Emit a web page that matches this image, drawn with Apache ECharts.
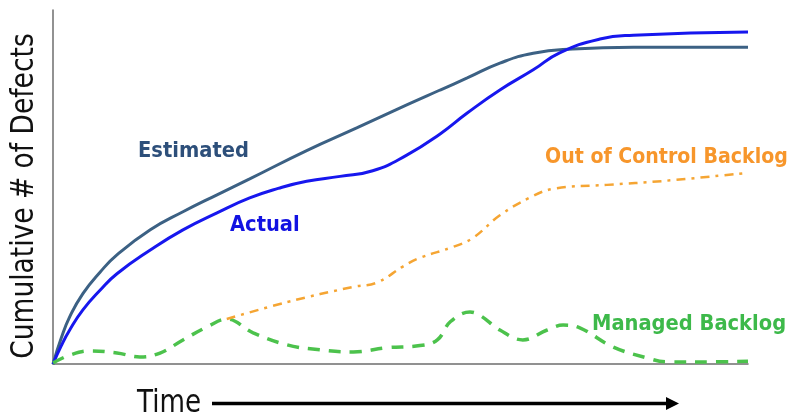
<!DOCTYPE html>
<html>
<head>
<meta charset="utf-8">
<script src="https://cdn.jsdelivr.net/npm/echarts@6/dist/echarts.min.js"></script>
<style>
  html, body { margin: 0; padding: 0; background: #ffffff; }
  #chart { width: 804px; height: 416px; }
</style>
</head>
<body>
<div id="chart"></div>
<script>
// ---- Data (time 0..100, defects 0..100) ----
const yAxisTitle = 'Cumulative # of Defects';
const xAxisTitle = 'Time';
const seriesNames = ['Estimated', 'Actual', 'Out of Control Backlog', 'Managed Backlog'];

const estimatedTime    = [0, 1.2, 2.4, 4.3, 6.8, 9.2, 14.0, 18.7, 23.6, 28.3, 36.5, 43.7, 50.9, 55.7, 59.6, 64.3, 69.1, 74.8, 83.5, 100];
const estimatedDefects = [0, 7.4, 13.3, 19.9, 26.0, 30.8, 37.9, 43.0, 47.8, 52.3, 60.3, 66.7, 73.2, 77.4, 80.8, 85.0, 87.8, 89.0, 89.5, 89.5];

const actualTime    = [0, 1.2, 2.4, 4.3, 6.8, 9.2, 14.0, 18.7, 23.6, 28.3, 32.4, 36.5, 41.3, 46.0, 50.9, 55.7, 59.6, 64.3, 69.1, 72.9, 78.7, 83.5, 100];
const actualDefects = [0, 5.2, 9.6, 15.3, 20.9, 25.5, 32.2, 37.9, 42.7, 46.9, 49.6, 51.6, 53.0, 54.6, 59.0, 65.0, 70.9, 77.4, 83.1, 87.9, 91.8, 92.9, 93.8];

const outOfControlTime    = [25.0, 33.7, 43.2, 46.6, 50.4, 52.8, 57.6, 60.4, 64.3, 68.6, 72.0, 79.7, 87.8, 100];
const outOfControlBacklog = [12.7, 17.5, 21.8, 23.0, 27.6, 30.0, 33.1, 35.6, 42.0, 47.0, 49.5, 50.6, 51.7, 54.0];

const managedTime    = [0, 2.4, 5.3, 9.2, 12.5, 15.4, 18.7, 22.2, 25.0, 28.8, 33.7, 38.4, 43.2, 48.1, 52.8, 55.3, 57.2, 60.0, 61.4, 64.3, 67.6, 71.1, 73.4, 75.8, 80.6, 85.5, 88.3, 95.0, 100];
const managedBacklog = [0.3, 2.5, 3.7, 3.1, 2.0, 3.1, 6.8, 10.5, 12.7, 8.8, 5.4, 4.0, 3.4, 4.6, 5.2, 6.8, 12.0, 14.7, 13.8, 9.6, 6.8, 9.6, 11.0, 10.2, 4.8, 1.7, 0.6, 0.6, 0.8];

function pairs(xs, ys) { return xs.map((x, i) => [x, ys[i]]); }

const chart = echarts.init(document.getElementById('chart'), null, { renderer: 'canvas' });

const axisCommon = {
  type: 'value', min: 0, max: 100,
  axisLine: { show: true, lineStyle: { color: '#6e6e6e', width: 1.5 } },
  axisTick: { show: false }, axisLabel: { show: false }, splitLine: { show: false }
};

const boldFont = (size) => 'bold ' + size + 'px "DejaVu Sans", Verdana, sans-serif';

chart.setOption({
  animation: false,
  backgroundColor: '#ffffff',
  grid: { left: 53, right: 56, top: 10, bottom: 52 },
  xAxis: axisCommon,
  yAxis: axisCommon,
  series: [
    { name: seriesNames[0], type: 'line', smooth: 0.5, symbol: 'none',
      data: pairs(estimatedTime, estimatedDefects),
      lineStyle: { color: '#3c6184', width: 3 } },
    { name: seriesNames[1], type: 'line', smooth: 0.5, symbol: 'none',
      data: pairs(actualTime, actualDefects),
      lineStyle: { color: '#1717ee', width: 3 } },
    { name: seriesNames[3], type: 'line', smooth: 0.4, symbol: 'none',
      data: pairs(managedTime, managedBacklog),
      lineStyle: { color: '#4cc24c', width: 3.5, type: [12, 9] } },
    { name: seriesNames[2], type: 'line', smooth: 0.4, symbol: 'none',
      data: pairs(outOfControlTime, outOfControlBacklog),
      lineStyle: { color: '#f5a533', width: 2.5, type: [9, 6, 3, 6] } }
  ],
  graphic: [
    { type: 'text', x: 25, y: 196, rotation: Math.PI / 2, scaleY: 1.2,
      style: { text: yAxisTitle, font: 'normal 26.5px "DejaVu Sans", Verdana, sans-serif',
               fill: '#111111', align: 'center', verticalAlign: 'middle' } },
    { type: 'text', x: 137, y: 404, scaleY: 1.2,
      style: { text: xAxisTitle, font: 'normal 26.2px "DejaVu Sans", Verdana, sans-serif',
               fill: '#111111', align: 'left', verticalAlign: 'middle' } },
    { type: 'line', shape: { x1: 212, y1: 403.5, x2: 670, y2: 403.5 },
      style: { stroke: '#000000', lineWidth: 3.5 } },
    { type: 'polygon', shape: { points: [[666, 397], [679, 403.5], [666, 410]] },
      style: { fill: '#000000' } },
    { type: 'text', x: 138, y: 151, scaleY: 1.1,
      style: { text: seriesNames[0], font: boldFont(19.5), fill: '#2d4f7a', align: 'left', verticalAlign: 'middle' } },
    { type: 'text', x: 230, y: 225, scaleY: 1.1,
      style: { text: seriesNames[1], font: boldFont(19.5), fill: '#1212e2', align: 'left', verticalAlign: 'middle' } },
    { type: 'text', x: 545, y: 157.5, scaleY: 1.1,
      style: { text: seriesNames[2], font: boldFont(19), fill: '#f7962b', align: 'left', verticalAlign: 'middle' } },
    { type: 'text', x: 592, y: 324.5, scaleY: 1.1,
      style: { text: seriesNames[3], font: boldFont(19.5), fill: '#3db94a', align: 'left', verticalAlign: 'middle' } }
  ]
});
</script>
</body>
</html>
